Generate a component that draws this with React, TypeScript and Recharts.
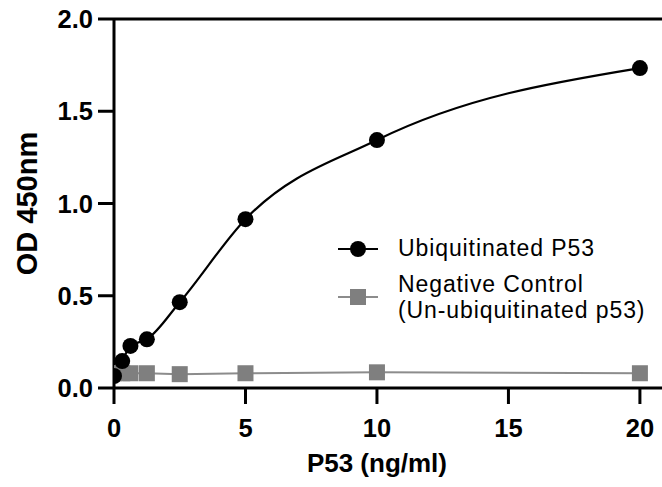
import { LineChart, Line, XAxis, YAxis, ReferenceLine, Label } from "recharts";

const CONC = [0, 0.3125, 0.625, 1.25, 2.5, 5, 10, 20];
const UBIQUITINATED = [0.065, 0.146, 0.228, 0.264, 0.465, 0.915, 1.344, 1.734];
const NEGATIVE = [0.08, 0.08, 0.08, 0.08, 0.075, 0.08, 0.085, 0.08];
const X_TICKS = [0, 5, 10, 15, 20];
const Y_TICKS = [0, 0.5, 1, 1.5, 2];

const ubiData = CONC.map((x, i) => ({ x, y: UBIQUITINATED[i] }));
const negData = CONC.map((x, i) => ({ x, y: NEGATIVE[i] }));

const FONT = "'Liberation Sans', Arial, sans-serif";

const SquareDot = (props: any) => {
    const { cx, cy } = props;
    if (cx == null || cy == null) return null;
    return <rect x={cx - 8} y={cy - 8} width={16} height={16} fill="#7f7f7f" />;
};

const XTitle = (props: any) => {
    const { viewBox } = props;
    const cx = viewBox.x + (viewBox.width * 20) / 20.84 / 2;
    return (
        <text
            x={cx}
            y={472}
            textAnchor="middle"
            fontFamily={FONT}
            fontSize={26}
            fontWeight="bold"
            fill="#000"
        >
            P53 (ng/ml)
        </text>
    );
};

const YTitle = (props: any) => {
    const { viewBox } = props;
    const cy = viewBox.y + viewBox.height / 2;
    return (
        <text
            x={36.5}
            y={cy}
            transform={`rotate(-90 36.5 ${cy})`}
            textAnchor="middle"
            fontFamily={FONT}
            fontSize={29}
            fontWeight="bold"
            fill="#000"
        >
            OD 450nm
        </text>
    );
};

const legendText = {
    fontFamily: FONT,
    fontSize: 23,
    letterSpacing: "0.9px",
    fill: "#000",
};

const tickStyle = { fill: "#000", fontSize: 25.5, fontWeight: "bold", fontFamily: FONT };

export default function App() {
    return (
        <div style={{ position: "absolute", left: 0, top: 0, width: 662, height: 487 }}>
            <LineChart
                width={662}
                height={487}
                margin={{ top: 19, right: 0, bottom: 0, left: 0 }}
            >
                <XAxis
                    type="number"
                    dataKey="x"
                    domain={[0, 20.84]}
                    ticks={X_TICKS}
                    allowDataOverflow
                    height={99}
                    tickSize={16}
                    tickMargin={15}
                    axisLine={{ stroke: "#000", strokeWidth: 3 }}
                    tickLine={{ stroke: "#000", strokeWidth: 3 }}
                    tick={tickStyle}
                >
                    <Label content={<XTitle />} />
                </XAxis>
                <YAxis
                    type="number"
                    dataKey="y"
                    domain={[0, 2]}
                    ticks={Y_TICKS}
                    width={114}
                    tickSize={16}
                    tickMargin={5}
                    tickFormatter={(v: number) => v.toFixed(1)}
                    axisLine={{ stroke: "#000", strokeWidth: 3 }}
                    tickLine={{ stroke: "#000", strokeWidth: 3 }}
                    tick={tickStyle}
                >
                    <Label content={<YTitle />} />
                </YAxis>
                <ReferenceLine y={2} stroke="#000" strokeWidth={3} />
                <Line
                    data={negData}
                    dataKey="y"
                    type="linear"
                    stroke="#8c8c8c"
                    strokeWidth={2}
                    dot={<SquareDot />}
                    isAnimationActive={false}
                />
                <Line
                    data={ubiData}
                    dataKey="y"
                    type="monotone"
                    stroke="#000"
                    strokeWidth={2.2}
                    dot={{ r: 8, fill: "#000", stroke: "none" }}
                    isAnimationActive={false}
                />
            </LineChart>
            <svg
                width={662}
                height={487}
                style={{ position: "absolute", left: 0, top: 0, pointerEvents: "none" }}
            >
                <line x1={338} x2={378} y1={249} y2={249} stroke="#000" strokeWidth={2.2} />
                <circle cx={358} cy={249} r={8} fill="#000" />
                <text x={398} y={256} style={legendText}>Ubiquitinated P53</text>
                <line x1={338} x2={378} y1={297} y2={297} stroke="#8c8c8c" strokeWidth={2} />
                <rect x={350} y={289} width={16} height={16} fill="#7f7f7f" />
                <text x={398} y={292} style={legendText}>Negative Control</text>
                <text x={398} y={318} style={legendText}>(Un-ubiquitinated p53)</text>
            </svg>
        </div>
    );
}
